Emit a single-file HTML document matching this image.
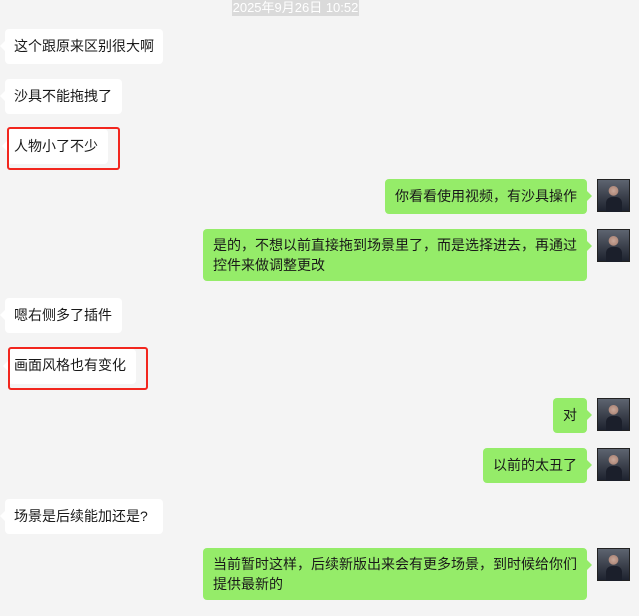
<!DOCTYPE html>
<html><head><meta charset="utf-8"><style>
body{margin:0;width:639px;height:616px;background:#f4f4f4;position:relative;overflow:hidden;font-family:"Liberation Sans","Noto Sans CJK SC",sans-serif;font-size:14px;color:#191919}
.b{position:absolute;background:#fff;border-radius:4px;box-sizing:border-box;padding:0 0 0 9px;line-height:20px;white-space:nowrap}
.b.l:before{content:"";position:absolute;left:-5px;top:12px;border:5px solid transparent;border-left:0;border-right-color:#fff}
.g{background:#95ec69}
.g:after{content:"";position:absolute;right:-5px;top:12px;border:5px solid transparent;border-right:0;border-left-color:#95ec69}
.av{position:absolute;left:597px;width:33px;height:33px;box-sizing:border-box;border:1px solid #222;background:radial-gradient(circle at 50% 35%,#c9a89a 0,#b08a7c 18%,transparent 20%),linear-gradient(#5d6470 0,#3a3f4a 55%,#1e2330 100%)}
.av:after{content:"";position:absolute;left:8px;top:17px;width:16px;height:15px;background:#1b1f2b;border-radius:6px 6px 0 0}
.r{position:absolute;border:2px solid #f2261e;border-radius:3px;box-sizing:border-box}
</style></head><body>
<div style="position:absolute;left:232px;top:0;width:127px;height:16px;background:#dadada;color:#fff;font-size:13px;line-height:16px;text-align:center;white-space:nowrap">2025年9月26日 10:52</div>

<div class="b l" style="left:5px;top:29px;width:158px;height:35px;padding-top:7px">这个跟原来区别很大啊</div>
<div class="b l" style="left:5px;top:79px;width:117px;height:35px;padding-top:7px">沙具不能拖拽了</div>
<div class="b l" style="left:7px;top:129px;width:101px;height:35px;padding-top:7px;padding-left:7px">人物小了不少</div>
<div class="r" style="left:7px;top:127px;width:113px;height:43px"></div>

<div class="b g" style="left:385px;top:179px;width:202px;height:35px;padding-top:7px;padding-left:10px">你看看使用视频，有沙具操作</div>
<div class="av" style="top:179px"></div>
<div class="b g" style="left:203px;top:229px;width:384px;height:52px;padding-top:6px;padding-left:10px">是的，不想以前直接拖到场景里了，而是选择进去，再通过<br>控件来做调整更改</div>
<div class="av" style="top:229px"></div>

<div class="b l" style="left:5px;top:298px;width:117px;height:35px;padding-top:7px">嗯右侧多了插件</div>
<div class="b l" style="left:8px;top:349px;width:128px;height:35px;padding-top:6px;padding-left:6px">画面风格也有变化</div>
<div class="r" style="left:8px;top:347px;width:140px;height:43px"></div>

<div class="b g" style="left:553px;top:398px;width:34px;height:35px;padding-top:7px;padding-left:10px">对</div>
<div class="av" style="top:398px"></div>
<div class="b g" style="left:483px;top:448px;width:104px;height:35px;padding-top:7px;padding-left:10px">以前的太丑了</div>
<div class="av" style="top:448px"></div>

<div class="b l" style="left:5px;top:499px;width:158px;height:35px;padding-top:7px">场景是后续能加还是?</div>
<div class="b g" style="left:203px;top:548px;width:384px;height:52px;padding-top:6px;padding-left:10px">当前暂时这样，后续新版出来会有更多场景，到时候给你们<br>提供最新的</div>
<div class="av" style="top:548px"></div>
</body></html>
